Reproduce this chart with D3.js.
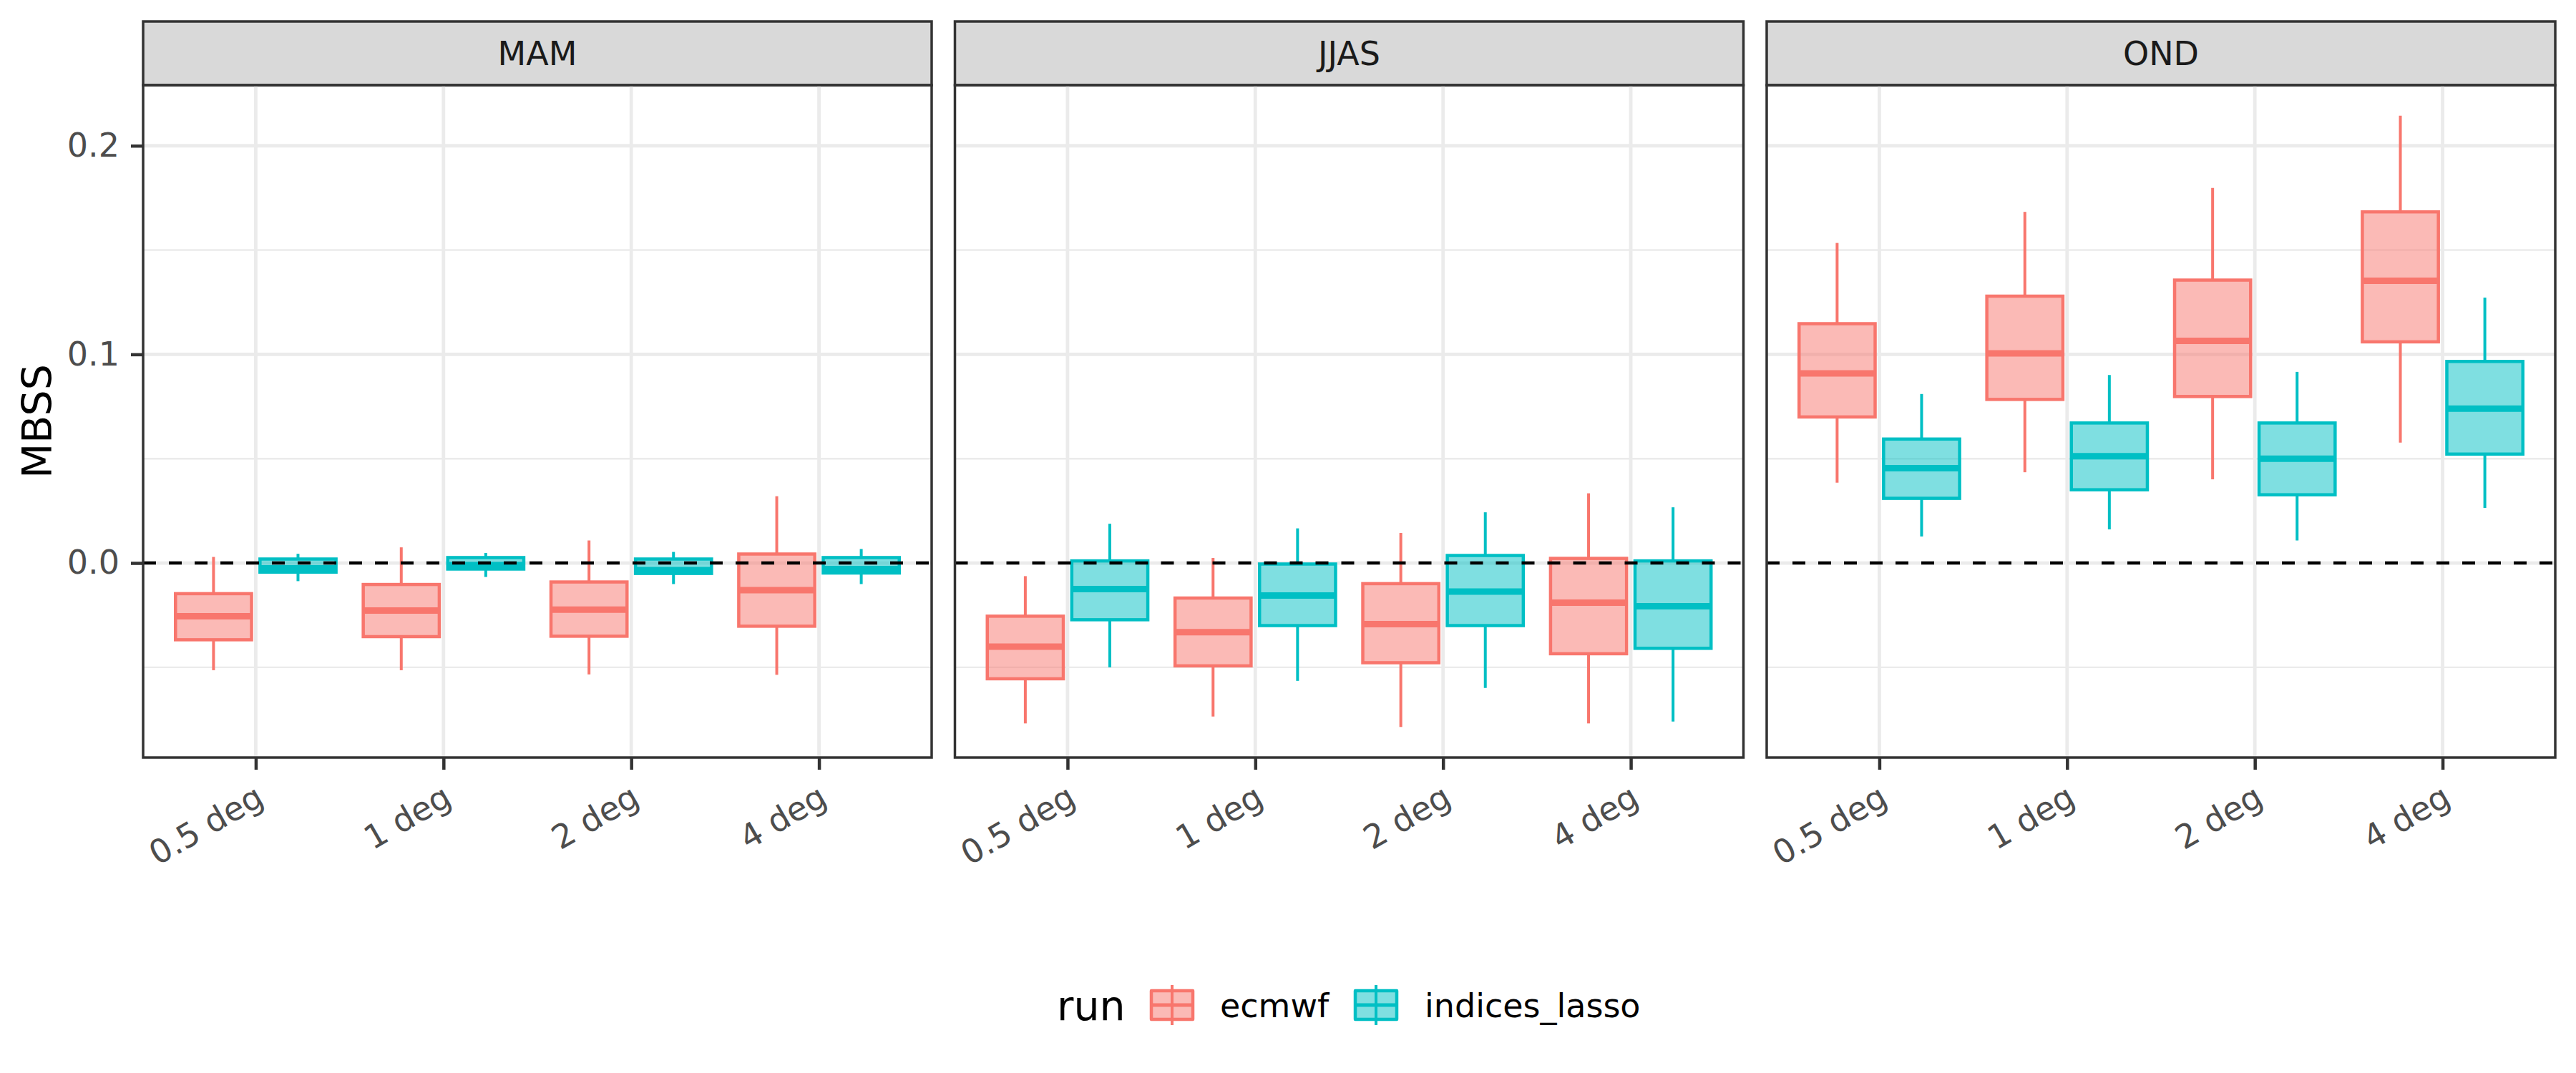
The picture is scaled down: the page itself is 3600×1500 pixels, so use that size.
<!DOCTYPE html>
<html>
<head>
<meta charset="utf-8">
<script src="https://cdn.jsdelivr.net/npm/d3@7"></script>
<style>
    body { margin: 0; background: #fff; }
    svg text { font-family: "DejaVu Sans", sans-serif; }
</style>
</head>
<body>
<div id="chart"></div>
<script>
// facets, categories and series
var seasons = ["MAM", "JJAS", "OND"];
var resolutions = ["0.5 deg", "1 deg", "2 deg", "4 deg"];
var runs = ["ecmwf", "indices_lasso"];
var runColors = ["#F8766D", "#00BFC4"];

// five-number summaries per resolution: [lower whisker, q1, median, q3, upper whisker]
var mamEcmwf = [
    [-0.0514, -0.0368, -0.0255, -0.0147, 0.0029],
    [-0.0514, -0.0353, -0.0228, -0.0103, 0.0075],
    [-0.0534, -0.0351, -0.0224, -0.0091, 0.0108],
    [-0.0536, -0.0303, -0.0130, 0.0043, 0.0320]
];
var mamLasso = [
    [-0.0087, -0.0044, -0.0026, 0.0019, 0.0044],
    [-0.0067, -0.0029, -0.0010, 0.0026, 0.0048],
    [-0.0101, -0.0050, -0.0034, 0.0019, 0.0053],
    [-0.0101, -0.0048, -0.0029, 0.0026, 0.0067]
];
var jjasEcmwf = [
    [-0.0769, -0.0555, -0.0401, -0.0255, -0.0063],
    [-0.0736, -0.0493, -0.0332, -0.0168, 0.0024],
    [-0.0786, -0.0478, -0.0293, -0.0099, 0.0144],
    [-0.0769, -0.0435, -0.0190, 0.0022, 0.0334]
];
var jjasLasso = [
    [-0.0500, -0.0272, -0.0125, 0.0010, 0.0188],
    [-0.0565, -0.0300, -0.0156, -0.0005, 0.0166],
    [-0.0599, -0.0300, -0.0137, 0.0036, 0.0243],
    [-0.0760, -0.0409, -0.0207, 0.0010, 0.0267]
];
var ondEcmwf = [
    [0.0385, 0.0700, 0.0909, 0.1147, 0.1534],
    [0.0435, 0.0784, 0.1005, 0.1279, 0.1683],
    [0.0401, 0.0798, 0.1065, 0.1356, 0.1798],
    [0.0577, 0.1060, 0.1353, 0.1683, 0.2144]
];
var ondLasso = [
    [0.0127, 0.0310, 0.0454, 0.0594, 0.0810],
    [0.0161, 0.0351, 0.0512, 0.0671, 0.0901],
    [0.0108, 0.0327, 0.0500, 0.0671, 0.0916],
    [0.0264, 0.0522, 0.0740, 0.0966, 0.1272]
];
var seasonStats = [[mamEcmwf, mamLasso], [jjasEcmwf, jjasLasso], [ondEcmwf, ondLasso]];

var yTicks = [0, 0.1, 0.2];
var yMinor = [-0.05, 0.05, 0.15];
var yTitle = "MBSS";
var legendTitle = "run";

var width = 3600, height = 1500;
var panelLeft = 200, panelW = 1102, panelGap = 32.5;
var stripTop = 30, stripH = 89, panelTop = 119, panelBottom = 1059;
var smallFont = 46, bigFont = 57;

var svg = d3.select("#chart").append("svg")
    .attr("width", width)
    .attr("height", height);

// y scale with the usual 5% expansion over the whisker range
var allVals = d3.merge(seasonStats.map(function(s){ return d3.merge(s.map(function(r){ return d3.merge(r); })); }));
var yMin = d3.min(allVals), yMax = d3.max(allVals);
var pad = (yMax - yMin) * 0.05;
var y = d3.scaleLinear().domain([yMin - pad, yMax + pad]).range([panelBottom, panelTop]);

seasons.forEach(function(season, si){
    var x0 = panelLeft + si * (panelW + panelGap);
    var x = d3.scalePoint().domain(resolutions).range([x0, x0 + panelW]).padding(0.6);
    var step = x.step();
    var dodge = d3.scaleBand().domain(runs).range([-0.45 * step, 0.45 * step]);
    var boxW = dodge.bandwidth() * 0.9;

    var g = svg.append("g");

    // strip
    g.append("rect")
        .attr("x", x0).attr("y", stripTop)
        .attr("width", panelW).attr("height", stripH)
        .attr("fill", "#D9D9D9").attr("stroke", "#333333").attr("stroke-width", 3.5);
    g.append("text")
        .attr("x", x0 + panelW / 2).attr("y", stripTop + stripH / 2)
        .attr("dy", "0.36em")
        .attr("text-anchor", "middle")
        .attr("font-size", smallFont).attr("fill", "#1A1A1A")
        .text(season);

    // grid
    g.selectAll(".minor").data(yMinor).enter().append("line")
        .attr("x1", x0).attr("x2", x0 + panelW)
        .attr("y1", function(d){ return y(d); }).attr("y2", function(d){ return y(d); })
        .attr("stroke", "#EBEBEB").attr("stroke-width", 2.4);
    g.selectAll(".major").data(yTicks).enter().append("line")
        .attr("x1", x0).attr("x2", x0 + panelW)
        .attr("y1", function(d){ return y(d); }).attr("y2", function(d){ return y(d); })
        .attr("stroke", "#EBEBEB").attr("stroke-width", 4.8);
    g.selectAll(".vmajor").data(resolutions).enter().append("line")
        .attr("x1", function(d){ return x(d); }).attr("x2", function(d){ return x(d); })
        .attr("y1", panelTop).attr("y2", panelBottom)
        .attr("stroke", "#EBEBEB").attr("stroke-width", 4.8);

    // boxes
    runs.forEach(function(run, ri){
        var col = runColors[ri];
        var stats = seasonStats[si][ri];
        var bg = g.selectAll(".box-" + ri).data(stats).enter().append("g");
        var cx = function(d, i){ return x(resolutions[i]) + dodge(run) + dodge.bandwidth() / 2; };
        bg.append("line")
            .attr("x1", cx).attr("x2", cx)
            .attr("y1", function(d){ return y(d[4]); }).attr("y2", function(d){ return y(d[3]); })
            .attr("stroke", col).attr("stroke-width", 4);
        bg.append("line")
            .attr("x1", cx).attr("x2", cx)
            .attr("y1", function(d){ return y(d[1]); }).attr("y2", function(d){ return y(d[0]); })
            .attr("stroke", col).attr("stroke-width", 4);
        bg.append("rect")
            .attr("x", function(d, i){ return cx(d, i) - boxW / 2; })
            .attr("y", function(d){ return y(d[3]); })
            .attr("width", boxW)
            .attr("height", function(d){ return y(d[1]) - y(d[3]); })
            .attr("fill", col).attr("fill-opacity", 0.5)
            .attr("stroke", col).attr("stroke-width", 4.5);
        bg.append("line")
            .attr("x1", function(d, i){ return cx(d, i) - boxW / 2; })
            .attr("x2", function(d, i){ return cx(d, i) + boxW / 2; })
            .attr("y1", function(d){ return y(d[2]); }).attr("y2", function(d){ return y(d[2]); })
            .attr("stroke", col).attr("stroke-width", 9);
    });

    // reference line at zero
    g.append("line")
        .attr("x1", x0).attr("x2", x0 + panelW)
        .attr("y1", y(0)).attr("y2", y(0))
        .attr("stroke", "#000").attr("stroke-width", 4.5)
        .attr("stroke-dasharray", "18,18");

    // panel border
    g.append("rect")
        .attr("x", x0).attr("y", panelTop)
        .attr("width", panelW).attr("height", panelBottom - panelTop)
        .attr("fill", "none").attr("stroke", "#333333").attr("stroke-width", 3.5);

    // x axis
    var xa = g.append("g")
        .attr("transform", "translate(0," + panelBottom + ")")
        .call(d3.axisBottom(x).tickSize(17).tickPadding(0));
    xa.select(".domain").remove();
    xa.selectAll(".tick line").attr("stroke", "#333333").attr("stroke-width", 4.5);
    xa.selectAll(".tick text")
        .attr("font-size", smallFont).attr("fill", "#4D4D4D")
        .attr("font-family", "DejaVu Sans")
        .attr("text-anchor", "end")
        .attr("y", 0).attr("dy", 0)
        .attr("transform", "translate(0,41) rotate(-30) translate(0,27)");

    if (si === 0) {
        var ya = g.append("g")
            .attr("transform", "translate(" + x0 + ",0)")
            .call(d3.axisLeft(y).tickValues(yTicks).tickFormat(d3.format(".1f")).tickSize(17).tickPadding(16));
        ya.select(".domain").remove();
        ya.selectAll(".tick line").attr("stroke", "#333333").attr("stroke-width", 4.5);
        ya.selectAll(".tick text").attr("font-size", smallFont).attr("fill", "#4D4D4D").attr("font-family", "DejaVu Sans");
    }
});

// y title
svg.append("text")
    .attr("transform", "translate(" + 72 + "," + ((panelTop + panelBottom) / 2) + ") rotate(-90)")
    .attr("text-anchor", "middle")
    .attr("font-size", bigFont).attr("fill", "#000")
    .text(yTitle);

// legend
var lg = svg.append("g");
lg.append("text")
    .attr("x", 1477).attr("y", 1405).attr("dy", "0.36em")
    .attr("font-size", bigFont).attr("fill", "#000")
    .text(legendTitle);
var keyX = [1609, 1894];
var labelX = [1705, 1991];
runs.forEach(function(run, ri){
    var col = runColors[ri];
    var kx = keyX[ri], cy = 1405;
    lg.append("line").attr("x1", kx + 29).attr("x2", kx + 29).attr("y1", cy - 28).attr("y2", cy + 28)
        .attr("stroke", col).attr("stroke-width", 4);
    lg.append("rect").attr("x", kx).attr("y", cy - 20).attr("width", 58).attr("height", 40)
        .attr("fill", col).attr("fill-opacity", 0.5).attr("stroke", col).attr("stroke-width", 4.5)
        .attr("stroke-linejoin", "round");
    lg.append("line").attr("x1", kx).attr("x2", kx + 58).attr("y1", cy).attr("y2", cy)
        .attr("stroke", col).attr("stroke-width", 5);
    lg.append("text").attr("x", labelX[ri]).attr("y", cy).attr("dy", "0.36em")
        .attr("font-size", smallFont).attr("fill", "#000")
        .text(run);
});
</script>
</body>
</html>
